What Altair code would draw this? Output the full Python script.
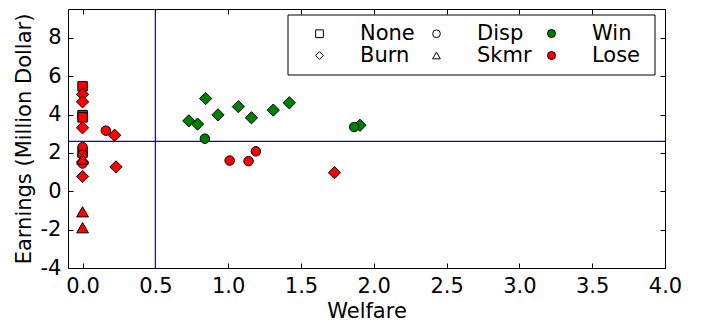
import altair as alt
import pandas as pd

# ---- data ----
welfare = [0, 0, 0, 0, 0, 0, 0, 0, 0, 0, 0, 0, 0, 0, 0,
           0.16, 0.22, 0.23, 1.01, 1.14, 1.19, 1.73,
           0.73, 0.79, 0.845, 0.93, 1.07, 1.16, 1.31, 1.42, 1.905,
           0.84, 1.865]
earnings = [5.47, 3.97, 3.85, 2.02, 5.05, 4.66, 3.31, 1.52, 0.77, 2.3, 1.9, 1.45, 1.68, -1.07, -1.9,
            3.16, 2.92, 1.27, 1.60, 1.57, 2.08, 0.97,
            3.67, 3.50, 4.83, 3.98, 4.41, 3.83, 4.23, 4.61, 3.44,
            2.74, 3.35]
strategy = ["None", "None", "None", "None", "Burn", "Burn", "Burn", "Burn", "Burn",
            "Disp", "Disp", "Disp", "Skmr", "Skmr", "Skmr",
            "Disp", "Burn", "Burn", "Disp", "Disp", "Disp", "Burn",
            "Burn", "Burn", "Burn", "Burn", "Burn", "Burn", "Burn", "Burn", "Burn",
            "Disp", "Disp"]
outcome = ["Lose"] * 22 + ["Win"] * 11

ref_welfare = [0.5]
ref_earnings = [2.6]

x_ticks = [0.0, 0.5, 1.0, 1.5, 2.0, 2.5, 3.0, 3.5, 4.0]
y_ticks = [-4, -2, 0, 2, 4, 6, 8]
x_domain = [-0.1, 4.0]
y_domain = [-4, 9.5]

# legend order (filled column by column, 2 columns): None, Burn | Disp, Skmr
type_names = ["None", "Burn", "Disp", "Skmr"]
type_shapes = ["square", "diamond", "circle", "triangle-up"]
# marker sizes per type (separate order so it is its own scale)
size_names = ["Burn", "Disp", "None", "Skmr"]
size_values = [150, 90, 90, 140]
outcome_names = ["Win", "Lose"]
outcome_colors = ["#008000", "#ff0000"]

FONT = "DejaVu Sans"
BLUE = "#0000ff"

df = pd.DataFrame({"Welfare": welfare, "Earnings": earnings,
                   "Type": strategy, "Result": outcome})

xs = alt.Scale(domain=x_domain, nice=False, zero=False)
ys = alt.Scale(domain=y_domain, nice=False, zero=False)

vline = alt.Chart(pd.DataFrame({"w": ref_welfare})).mark_rule(
    strokeWidth=1.2, opacity=1
).encode(
    x=alt.X("w:Q", scale=xs,
            axis=alt.Axis(orient="top", values=x_ticks, labels=False, title=None)),
    color=alt.value(BLUE),
)

hline = alt.Chart(pd.DataFrame({"e": ref_earnings})).mark_rule(
    strokeWidth=1.2, opacity=1
).encode(
    y=alt.Y("e:Q", scale=ys,
            axis=alt.Axis(orient="right", values=y_ticks, labels=False, title=None)),
    color=alt.value(BLUE),
)

points = alt.Chart(df).transform_calculate(
    SizeKey="datum.Type"
).mark_point(
    filled=True, stroke="black", strokeWidth=1, opacity=1
).encode(
    x=alt.X("Welfare:Q", scale=xs,
            axis=alt.Axis(orient="bottom", values=x_ticks, format=".1f",
                          title="Welfare", titlePadding=4)),
    y=alt.Y("Earnings:Q", scale=ys,
            axis=alt.Axis(orient="left", values=y_ticks, labelExpr="'' + datum.value",
                          title="Earnings (Million Dollar)", titlePadding=6)),
    shape=alt.Shape("Type:N", scale=alt.Scale(domain=type_names, range=type_shapes),
                    legend=alt.Legend(orient="none", legendX=241, legendY=14,
                                      columns=2, title=None, symbolSize=60,
                                      symbolFillColor="white", symbolStrokeColor="black",
                                      symbolStrokeWidth=1, labelOffset=30,
                                      columnPadding=11, rowPadding=0, padding=0,
                                      zindex=2)),
    fill=alt.Fill("Result:N", scale=alt.Scale(domain=outcome_names, range=outcome_colors),
                  legend=alt.Legend(orient="none", legendX=473, legendY=14,
                                    title=None, symbolType="circle", symbolSize=64,
                                    symbolStrokeColor="black", symbolStrokeWidth=1,
                                    labelOffset=30, rowPadding=0, padding=0, zindex=2)),
    size=alt.Size("SizeKey:N",
                  scale=alt.Scale(type="ordinal", domain=size_names, range=size_values),
                  legend=None),
)

legend_box = alt.Chart(alt.Data(values=[{}])).mark_rect(
    fill="white", stroke="black", strokeWidth=1
).encode(
    x=alt.value(220), x2=alt.value(587), y=alt.value(6), y2=alt.value(66)
)

chart = alt.layer(vline, hline, points, legend_box).resolve_axis(
    x="independent", y="independent"
).properties(
    width=597, height=259,
    autosize=alt.AutoSizeParams(type="none"),
    padding={"left": 60, "top": 1, "right": 25, "bottom": 59},
).configure_view(
    stroke="black", strokeWidth=1
).configure_axis(
    grid=False, domain=False, offset=-5, tickSize=5, tickWidth=1, tickColor="black",
    labelPadding=7, labelFont=FONT, labelFontSize=21, labelColor="black",
    labelFlush=False, labelOverlap=False,
    titleFont=FONT, titleFontSize=21, titleFontWeight="normal", titleColor="black",
).configure_legend(
    labelFont=FONT, labelFontSize=21, labelColor="black"
)

chart.save("out.html", embed_options={"renderer": "svg", "actions": False})
